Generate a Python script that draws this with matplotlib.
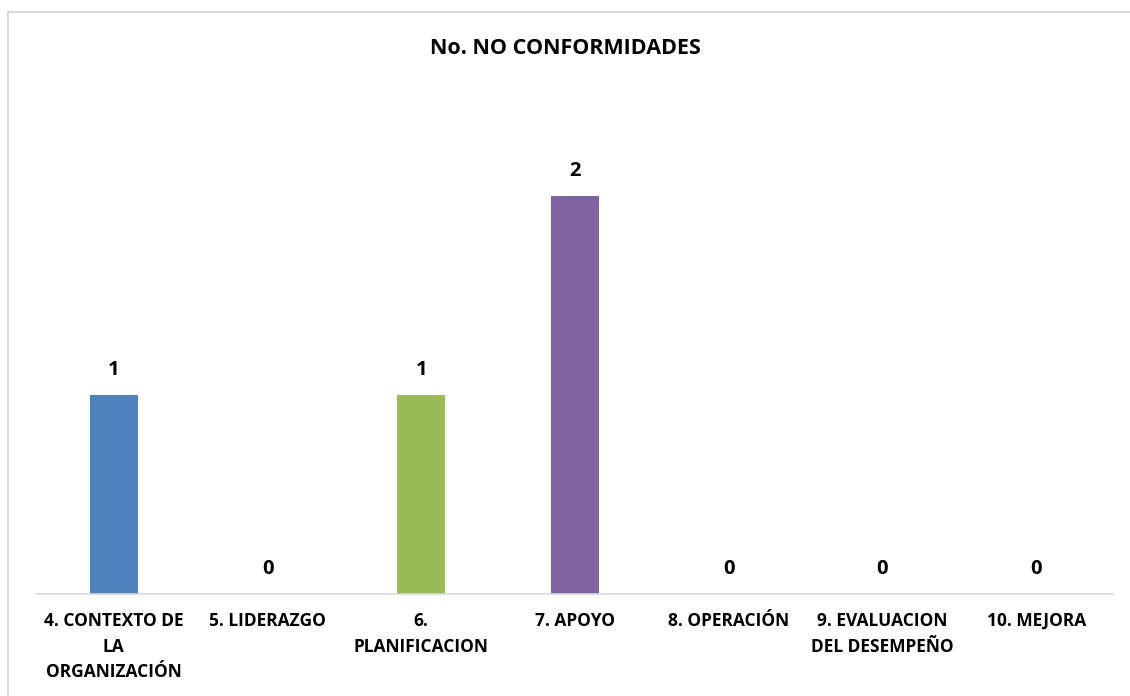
import matplotlib
matplotlib.use("Agg")
import matplotlib.pyplot as plt
from matplotlib.patches import Rectangle

categorias = ["4. CONTEXTO DE\nLA\nORGANIZACIÓN", "5. LIDERAZGO", "6.\nPLANIFICACION",
              "7. APOYO", "8. OPERACIÓN", "9. EVALUACION\nDEL DESEMPEÑO", "10. MEJORA"]
valores = [1, 0, 1, 2, 0, 0, 0]
colores = ["#4F81BD", "#4F81BD", "#9BBB59", "#8064A2", "#4F81BD", "#4F81BD", "#4F81BD"]
titulo = "No. NO CONFORMIDADES"

plt.rcParams['font.family'] = ['Open Sans', 'DejaVu Sans']

W, H = 1130, 696
fig = plt.figure(figsize=(W / 100, H / 100), dpi=100)

# marco del grafico (sale por la derecha y abajo)
fig.patches.append(Rectangle((8 / W, -0.01), 1.0, 1 - 12 / H + 0.01,
                             transform=fig.transFigure, fill=False,
                             edgecolor="#D9D9D9", linewidth=1.5))

ax = fig.add_axes([37 / W, 1 - 594 / H, (1113 - 37) / W, (594 - 120) / H])
x = range(len(categorias))
ax.bar(x, valores, width=0.312, color=colores)
ax.set_xlim(-0.5, len(categorias) - 0.5)
ax.set_ylim(0, 2.382)

for i, v in zip(x, valores):
    ax.annotate(str(v), (i, v), xytext=(0, 11), textcoords="offset points",
                ha="center", va="bottom", fontsize=14.5, fontweight="bold")

ax.set_xticks(list(x))
ax.set_xticklabels(categorias, fontsize=12.5, fontweight="bold", linespacing=1.55)
ax.tick_params(axis="x", length=0, pad=13)
ax.set_yticks([])
for s in ["top", "right", "left"]:
    ax.spines[s].set_visible(False)
ax.spines["bottom"].set_color("#D9D9D9")
ax.spines["bottom"].set_linewidth(1.2)

fig.text(0.5, 1 - 49 / H, titulo, ha="center", va="center",
         fontsize=15.5, fontweight="bold")

fig.savefig("out.png", dpi=100)
